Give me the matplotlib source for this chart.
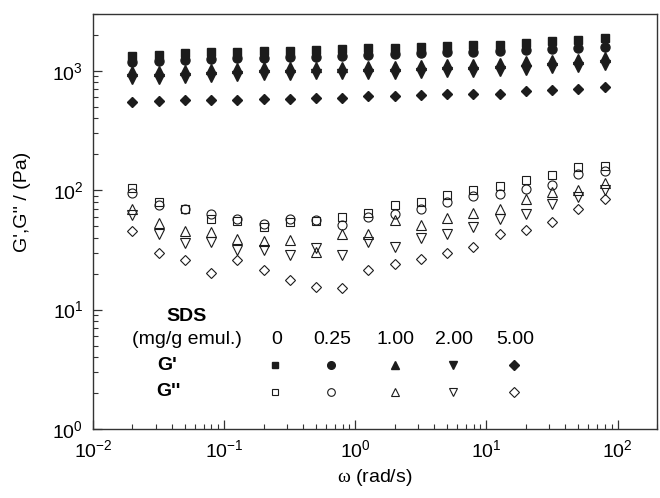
import matplotlib
matplotlib.use('Agg')
import matplotlib.pyplot as plt

plt.rcParams['font.family'] = ['Liberation Sans', 'DejaVu Sans']
plt.rcParams['mathtext.fontset'] = 'custom'
plt.rcParams['mathtext.rm'] = 'Liberation Sans'
plt.rcParams['mathtext.it'] = 'Liberation Serif'
plt.rcParams['mathtext.bf'] = 'Liberation Sans:bold'

# frequência angular (rad/s)
omega = [0.02, 0.0317, 0.0502, 0.0796, 0.126, 0.2, 0.317, 0.502, 0.796, 1.26,
         2.0, 3.17, 5.02, 7.96, 12.6, 20.0, 31.7, 50.2, 79.6]

# G' (Pa) para cada concentração de SDS
gp_0 = [1322, 1366, 1393, 1420, 1438, 1455, 1455, 1485, 1525, 1535,
        1555, 1572, 1603, 1634, 1656, 1712, 1766, 1800, 1860]
gp_025 = [1179, 1201, 1225, 1241, 1265, 1281, 1290, 1310, 1340, 1362,
          1384, 1402, 1420, 1440, 1457, 1476, 1514, 1553, 1573]
gp_100 = [985, 997, 1017, 1030, 1050, 1070, 1070, 1084, 1084, 1098,
          1098, 1119, 1141, 1141, 1156, 1194, 1233, 1249, 1298]
gp_200 = [845, 855, 872, 883, 900, 917, 917, 930, 930, 942,
          942, 960, 979, 979, 991, 1023, 1057, 1071, 1113]
gp_500 = [545, 553, 571, 564, 564, 582, 574, 589, 593, 608,
          608, 621, 632, 632, 641, 670, 683, 705, 728]

# G'' (Pa)
gpp_0 = [104, 79.6, 69.1, 57.0, 54.8, 49.2, 54.1, 55.2, 59.6, 64.8,
         74.6, 79.6, 90.5, 99.6, 108.3, 122.4, 133.0, 156.1, 159.2]
gpp_025 = [94.6, 75.6, 69.1, 63.6, 57.0, 51.8, 57.7, 56.6, 51.4, 59.6,
           63.6, 70.0, 79.6, 89.3, 93.4, 102.8, 109.6, 137.3, 143.6]
gpp_100 = [70.0, 53.5, 45.5, 44.4, 39.3, 37.3, 38.5, 30.4, 43.3, 43.0,
           55.9, 50.8, 58.9, 64.4, 70.0, 84.9, 96.5, 99.6, 114.7]
gpp_200 = [61.6, 43.3, 36.1, 37.1, 31.4, 31.4, 28.5, 32.8, 28.5, 36.8,
           33.5, 40.0, 43.3, 49.2, 57.0, 63.6, 76.1, 87.6, 99.6]
gpp_500 = [45.5, 29.5, 26.2, 20.4, 26.2, 21.3, 17.6, 15.5, 15.2, 21.3,
           24.3, 26.7, 29.8, 33.5, 42.7, 46.1, 54.5, 69.1, 84.9]

sds_labels = ['0', '0.25', '1.00', '2.00', '5.00']
marcadores = ['s', 'o', '^', 'v', 'D']
tamanhos = [6, 6.5, 6.5, 6.5, 5.5]
tam_legenda = [5, 5.5, 6, 6, 4.8]
series_gp = [gp_0, gp_025, gp_100, gp_200, gp_500]
series_gpp = [gpp_0, gpp_025, gpp_100, gpp_200, gpp_500]

cor = '#1c1c1c'
fs = 14

fig = plt.figure(figsize=(6.6, 4.98), dpi=100)
ax = fig.add_axes([93/660, 69/498, 564/660, 415.3/498])

for m, ms, g1, g2 in zip(marcadores, tamanhos, series_gp, series_gpp):
    ax.plot(omega, g1, linestyle='none', marker=m, ms=ms, color=cor, mec=cor)
    ax.plot(omega, g2, linestyle='none', marker=m, ms=ms, mfc='none', mec=cor, mew=0.8)

ax.set_xscale('log')
ax.set_yscale('log')
ax.set_xlim(0.01, 200)
ax.set_ylim(1, 3000)

ax.tick_params(which='both', direction='in', top=False, right=False,
               labelsize=fs, pad=7, color='#333333')
ax.tick_params(which='major', length=6.5, width=0.9)
ax.tick_params(which='minor', length=3.5, width=0.8)
for s in ax.spines.values():
    s.set_linewidth(1.0)
    s.set_color('#333333')

ax.set_xlabel(r'$\omega$ (rad/s)', fontsize=fs)
ax.xaxis.set_label_coords(0.5, -0.092)
ax.set_ylabel("G',G'' / (Pa)", fontsize=fs)
ax.yaxis.set_label_coords(-0.11, 0.547)

# tabela de legenda dentro do gráfico
x_nomes = 0.166
x_col = [0.325, 0.4244, 0.537, 0.640, 0.749]
y_sds, y_conc, y_gp, y_gpp = 0.272, 0.2167, 0.154, 0.0898
ax.text(x_nomes, y_sds, 'SDS', transform=ax.transAxes, fontsize=fs,
        fontweight='bold', ha='center', va='center')
ax.text(x_nomes, y_conc, '(mg/g emul.)', transform=ax.transAxes, fontsize=fs,
        ha='center', va='center')
ax.text(0.132, y_gp, "G'", transform=ax.transAxes, fontsize=fs,
        fontweight='bold', ha='center', va='center')
ax.text(0.134, y_gpp, "G''", transform=ax.transAxes, fontsize=fs,
        fontweight='bold', ha='center', va='center')
for xc, lab, m, ml in zip(x_col, sds_labels, marcadores, tam_legenda):
    ax.text(xc, y_conc, lab, transform=ax.transAxes, fontsize=fs,
            ha='center', va='center')
    ax.plot([xc - 0.002], [y_gp], transform=ax.transAxes, marker=m, ms=ml,
            color=cor, linestyle='none', clip_on=False)
    ax.plot([xc - 0.002], [y_gpp], transform=ax.transAxes, marker=m, ms=ml,
            mfc='none', mec=cor, mew=0.8, linestyle='none', clip_on=False)

fig.savefig('out.png', dpi=100)
